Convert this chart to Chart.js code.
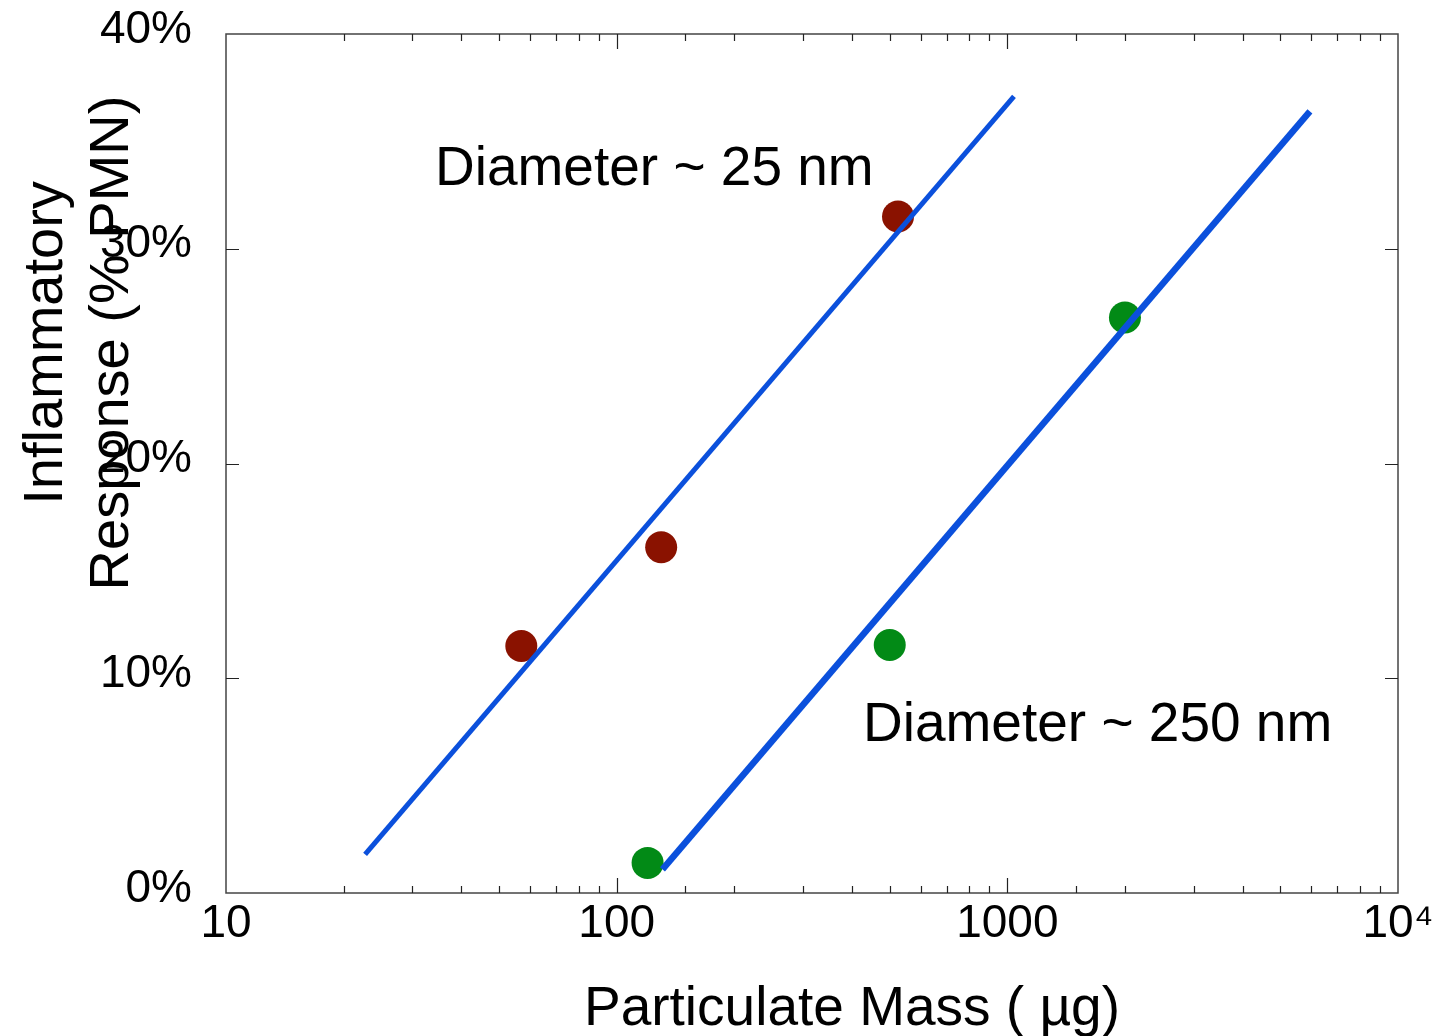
<!DOCTYPE html>
<html lang="en">
<head>
  <meta charset="utf-8">
  <title>Inflammatory response vs particulate mass</title>
  <script src="https://cdn.jsdelivr.net/npm/chart.js@4/dist/chart.umd.min.js"></script>
  <style>
    body { margin: 0; background: #fff; }
    #wrap { width: 1434px; height: 1036px; }
  </style>
</head>
<body>
<div id="wrap">
  <canvas id="pmnChart" width="1434" height="1036"></canvas>
</div>
<script>
// particle diameter ~25 nm
var massSmall = [57, 130, 525];
var pmnSmall = [11.5, 16.1, 31.5];
// particle diameter ~250 nm
var massLarge = [120, 500, 2000];
var pmnLarge = [1.4, 11.55, 26.8];

// fitted lines (end points)
var fitSmallMass = [22.7, 1040];
var fitSmallPmn = [1.8, 37.1];
var fitLargeMass = [131, 5950];
var fitLargePmn = [1.1, 36.4];

var xTickLabels = { 10: '10', 100: '100', 1000: '1000', 10000: '10\u2074' };
var yTickValues = [0, 10, 20, 30, 40];

var xTitle = 'Particulate Mass ( \u00b5g)';
var yTitle = ['Inflammatory', 'Response (% PMN)'];
var noteSmall = 'Diameter ~ 25 nm';
var noteLarge = 'Diameter ~ 250 nm';

function toPoints(xs, ys) {
  var pts = [];
  for (let i = 0; i < xs.length; i++) {
    pts.push({ x: xs[i], y: ys[i] });
  }
  return pts;
}

var FONT = "'Liberation Sans', Arial, sans-serif";
Chart.defaults.font.family = FONT;
Chart.defaults.color = '#000';

// frame, inward ticks, titles and notes
var decorPlugin = {
  id: 'decor',
  afterDraw: function(chart) {
    var ctx = chart.ctx;
    var a = chart.chartArea;
    var xs = chart.scales.x;
    var ys = chart.scales.y;
    ctx.save();
    ctx.strokeStyle = '#444';
    ctx.lineWidth = 1.5;
    ctx.strokeRect(a.left, a.top, a.right - a.left, a.bottom - a.top);

    ctx.lineWidth = 1.2;
    ctx.strokeStyle = '#222';
    ctx.beginPath();
    xs.ticks.forEach(function(t) {
      var v = t.value;
      if (v <= 10 || v >= 10000) return;
      var px = Math.round(xs.getPixelForValue(v)) + 0.5;
      var major = Math.abs(Math.log10(v) - Math.round(Math.log10(v))) < 1e-6;
      var len = major ? 15 : 7;
      ctx.moveTo(px, a.bottom); ctx.lineTo(px, a.bottom - len);
      ctx.moveTo(px, a.top); ctx.lineTo(px, a.top + len);
    });
    yTickValues.forEach(function(v) {
      if (v <= 0 || v >= 40) return;
      var py = Math.round(ys.getPixelForValue(v)) + 0.5;
      ctx.moveTo(a.left, py); ctx.lineTo(a.left + 13, py);
      ctx.moveTo(a.right, py); ctx.lineTo(a.right - 13, py);
    });
    ctx.stroke();

    ctx.fillStyle = '#000';
    ctx.font = '55px ' + FONT;
    ctx.textBaseline = 'alphabetic';
    ctx.textAlign = 'left';
    ctx.fillText(noteSmall, 435, 185);
    ctx.fillText(noteLarge, 863, 741);

    ctx.textAlign = 'center';
    ctx.fillText(xTitle, 852, 1025);

    ctx.font = '56px ' + FONT;
    ctx.translate(0, 343);
    ctx.rotate(-Math.PI / 2);
    ctx.fillText(yTitle[0], 0, 62);
    ctx.fillText(yTitle[1], 0, 128);
    ctx.restore();
  }
};

var ctx = document.getElementById('pmnChart').getContext('2d');
var mychart = new Chart(ctx, {
  type: 'scatter',
  data: {
    datasets: [
      {
        label: 'fit 25 nm',
        data: toPoints(fitSmallMass, fitSmallPmn),
        showLine: true,
        borderColor: '#0b50dc',
        borderWidth: 5,
        pointRadius: 0,
        order: 0
      },
      {
        label: 'fit 250 nm',
        data: toPoints(fitLargeMass, fitLargePmn),
        showLine: true,
        borderColor: '#0b50dc',
        borderWidth: 6.5,
        pointRadius: 0,
        order: 0
      },
      {
        label: '25 nm',
        data: toPoints(massSmall, pmnSmall),
        backgroundColor: '#8a1200',
        borderWidth: 0,
        pointRadius: 16,
        order: 1
      },
      {
        label: '250 nm',
        data: toPoints(massLarge, pmnLarge),
        backgroundColor: '#028a16',
        borderWidth: 0,
        pointRadius: 16,
        order: 1
      }
    ]
  },
  options: {
    responsive: false,
    animation: false,
    layout: { padding: { top: 34, right: 36, left: 0, bottom: 0 } },
    plugins: {
      legend: { display: false },
      tooltip: { enabled: false }
    },
    scales: {
      x: {
        type: 'logarithmic',
        min: 10,
        max: 10000,
        grid: { display: false, drawTicks: false },
        border: { display: false },
        afterFit: function(scale) {
          scale.height = 143;
          scale.paddingLeft = 0;
          scale.paddingRight = 0;
        },
        ticks: {
          autoSkip: false,
          maxRotation: 0,
          minRotation: 0,
          padding: 4,
          font: { size: 46 },
          color: '#000',
          callback: function(v) { return xTickLabels[v] || ''; }
        }
      },
      y: {
        min: 0,
        max: 40,
        grid: { display: false, drawTicks: false },
        border: { display: false },
        afterFit: function(scale) {
          scale.width = 226;
          scale.paddingTop = 0;
          scale.paddingBottom = 0;
        },
        afterBuildTicks: function(scale) {
          scale.ticks = yTickValues.map(function(v) { return { value: v }; });
        },
        ticks: {
          padding: 34,
          labelOffset: -4,
          font: { size: 46 },
          color: '#000',
          callback: function(v) { return v + '%'; }
        }
      }
    }
  },
  plugins: [decorPlugin]
});
</script>
</body>
</html>
